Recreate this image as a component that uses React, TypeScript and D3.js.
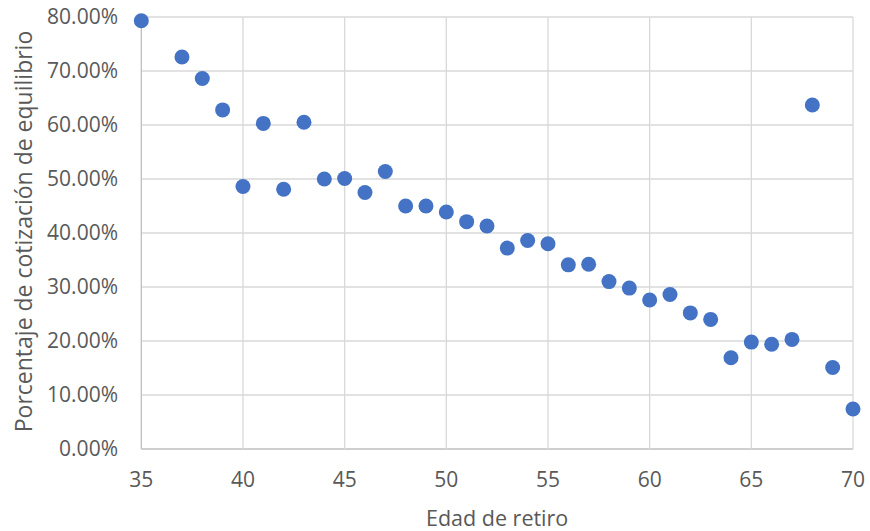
import React from "react";
import * as d3 from "d3";

const edades = [35, 37, 38, 39, 40, 41, 42, 43, 44, 45, 46, 47, 48, 49, 50, 51, 52, 53, 54, 55, 56, 57, 58, 59, 60, 61, 62, 63, 64, 65, 66, 67, 68, 69, 70];
const cotizacion = [0.793, 0.726, 0.686, 0.628, 0.486, 0.603, 0.481, 0.605, 0.5, 0.501, 0.475, 0.514, 0.45, 0.45, 0.439, 0.421, 0.413, 0.372, 0.386, 0.38, 0.341, 0.342, 0.31, 0.298, 0.276, 0.286, 0.252, 0.24, 0.169, 0.198, 0.194, 0.203, 0.637, 0.151, 0.074];
const xTicks = [35, 40, 45, 50, 55, 60, 65, 70];
const yTicks = [0, 0.1, 0.2, 0.3, 0.4, 0.5, 0.6, 0.7, 0.8];
const xTitle = "Edad de retiro";
const yTitle = "Porcentaje de cotización de equilibrio";

export default function App() {
  const W = 870, H = 531;
  const x = d3.scaleLinear().domain([35, 70]).range([141.3, 853]);
  const y = d3.scaleLinear().domain([0, 0.8]).range([449, 17]);
  const fmt = (v: number) => (v * 100).toFixed(2) + "%";
  const font = "'Open Sans', sans-serif";
  const textColor = "#595959";
  return (
    <svg width={W} height={H} style={{ position: "absolute", left: 0, top: 0, background: "#fff" }} fontFamily={font}>
      {yTicks.map((t) => (
        <line key={"gy" + t} x1={x(35)} x2={x(70)} y1={y(t)} y2={y(t)} stroke={t === 0 ? "#bfbfbf" : "#d9d9d9"} strokeWidth={1.3} />
      ))}
      {xTicks.map((t) => (
        <line key={"gx" + t} x1={x(t)} x2={x(t)} y1={y(0.8)} y2={y(0)} stroke={t === 35 ? "#bfbfbf" : "#d9d9d9"} strokeWidth={1.3} />
      ))}
      {yTicks.map((t) => (
        <text key={"ty" + t} x={118} y={y(t)} dy="0.35em" textAnchor="end" fontSize={21} fill={textColor}>
          {fmt(t)}
        </text>
      ))}
      {xTicks.map((t) => (
        <text key={"tx" + t} x={x(t)} y={480} dy="0.35em" textAnchor="middle" fontSize={21} fill={textColor}>
          {t}
        </text>
      ))}
      <text x={(x(35) + x(70)) / 2} y={525.5} textAnchor="middle" fontSize={21.5} fill={textColor}>
        {xTitle}
      </text>
      <text transform={`translate(24,${231.5}) rotate(-90)`} dy="0.35em" textAnchor="middle" fontSize={23} fill={textColor}>
        {yTitle}
      </text>
      {edades.map((e, i) => (
        <circle key={"p" + e} cx={x(e)} cy={y(cotizacion[i])} r={7.5} fill="#4472C4" />
      ))}
    </svg>
  );
}
